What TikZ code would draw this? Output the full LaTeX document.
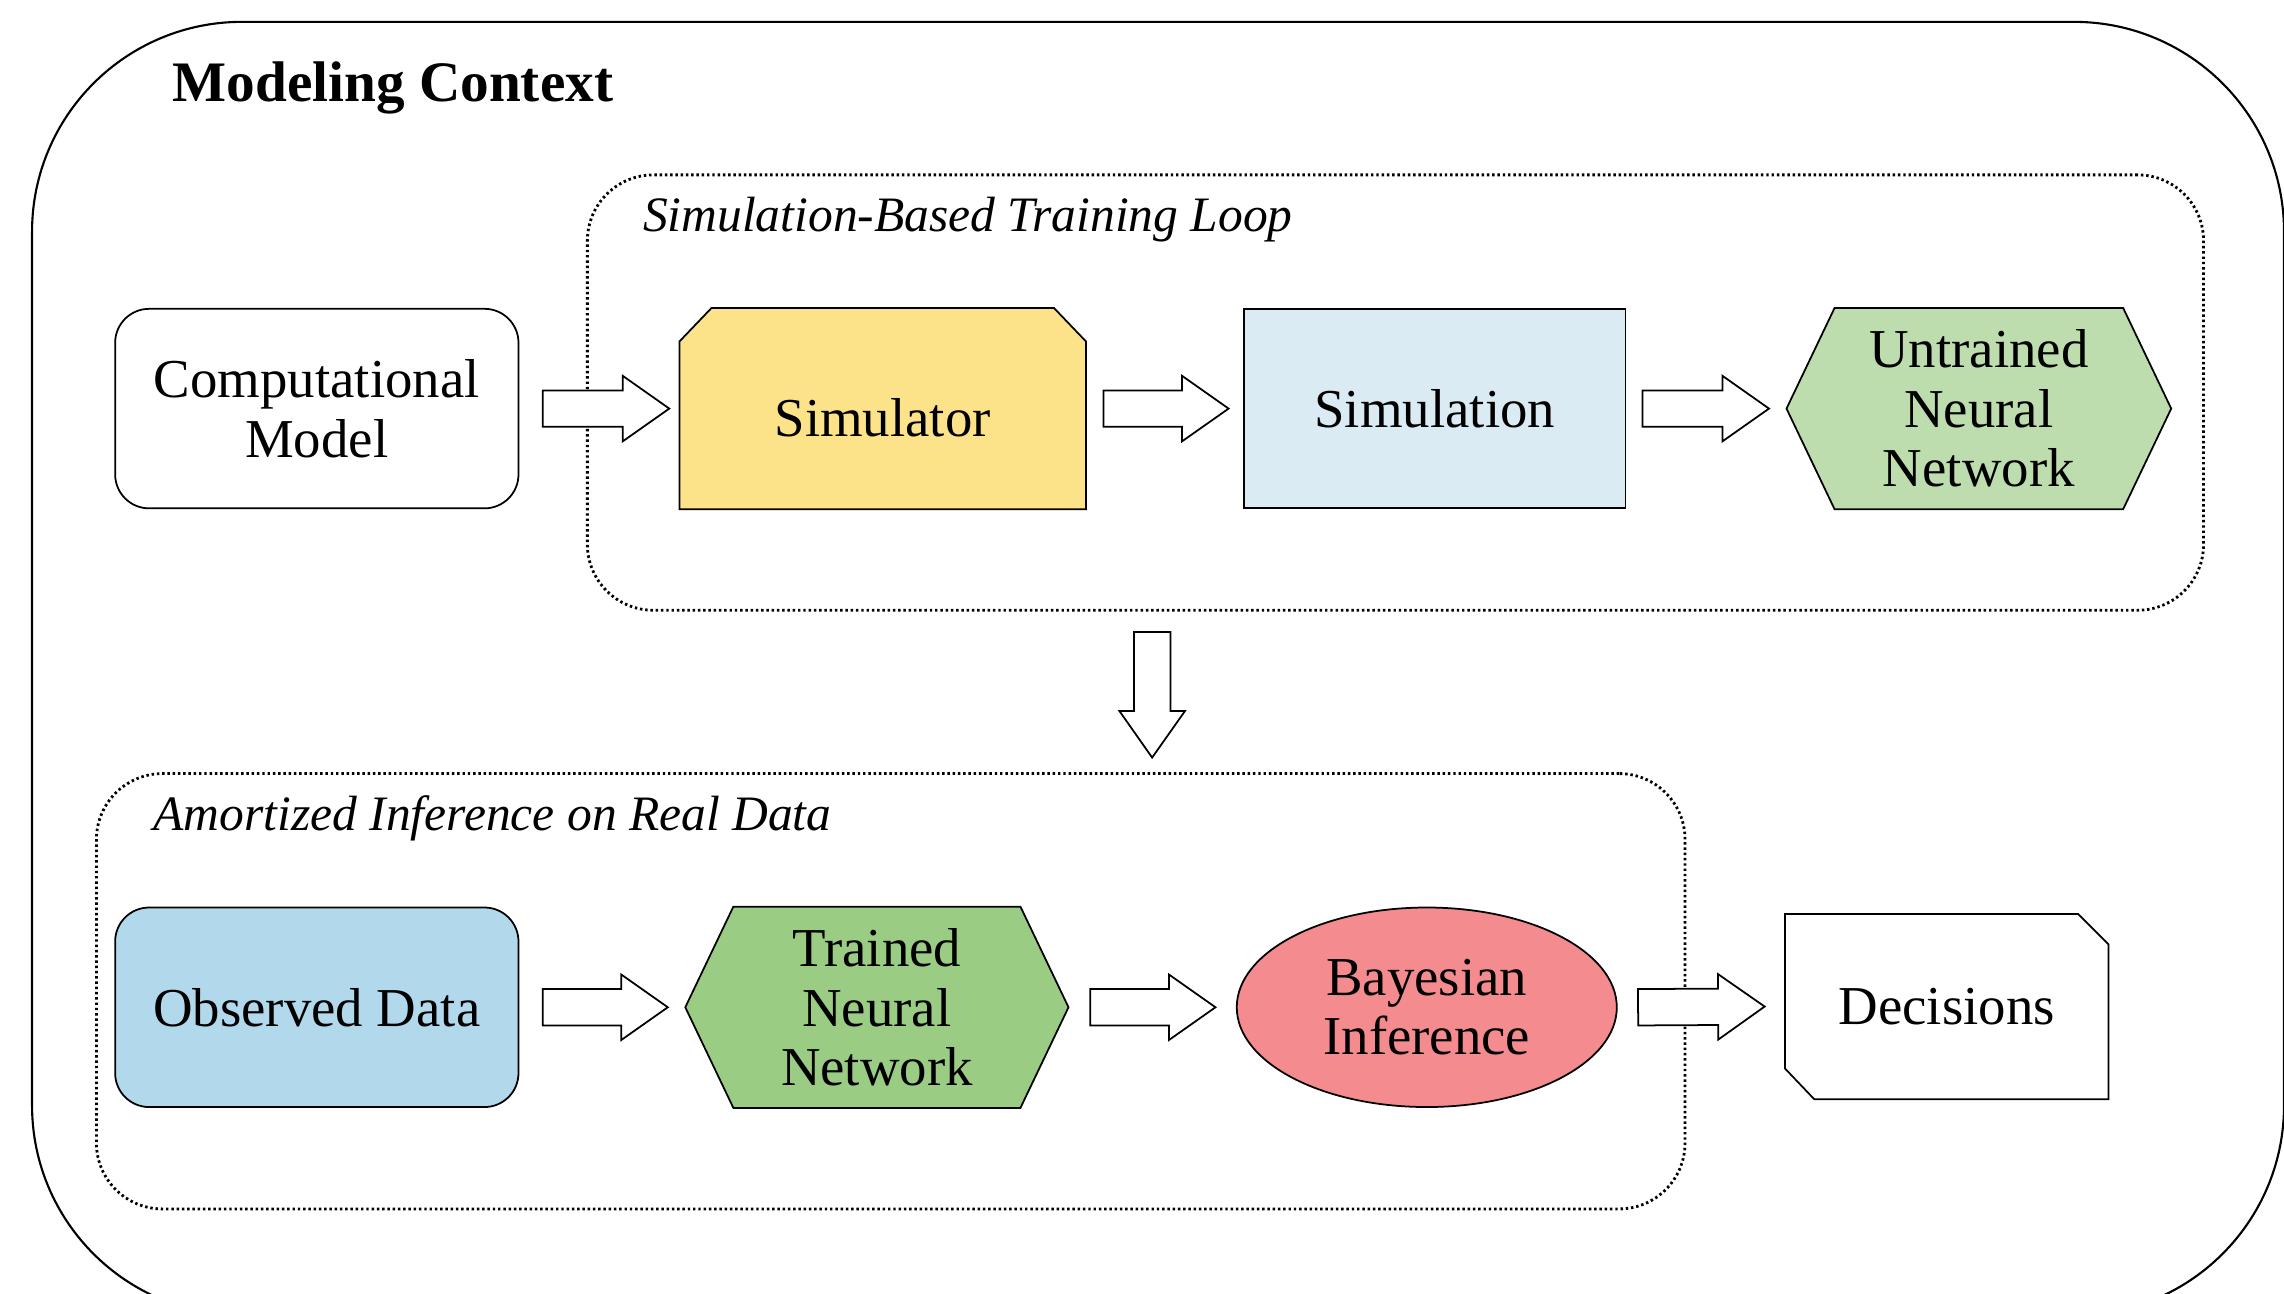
\documentclass[tikz,border=0pt]{standalone}
\usepackage{fontspec}
\setmainfont{Liberation Serif}
\usetikzlibrary{calc,shapes.geometric}
\definecolor{simyellow}{HTML}{FCE38A}
\definecolor{simblue}{HTML}{DAEBF4}
\definecolor{untrgreen}{HTML}{BEDDAE}
\definecolor{obsblue}{HTML}{B2D8EC}
\definecolor{trgreen}{HTML}{9BCC84}
\definecolor{bayesred}{HTML}{F48B8E}
\newcommand{\mynodefont}{\fontsize{15.6pt}{16.9pt}\selectfont}
\pgfdeclarelayer{bg}
\pgfdeclarelayer{shapes}
\pgfsetlayers{bg,shapes,main}
\tikzset{
  box/.style={line width=0.5pt, inner sep=0pt, align=center, font=\mynodefont},
  framed/.style={box, draw=black},
  shapeline/.style={draw=black, line width=0.5pt},
  dotbox/.style={draw=black, line width=0.8pt, dash pattern=on 0.7pt off 0.8pt,
     rounded corners=0.66cm, inner sep=0pt, minimum height=4.355cm},
  grouptitle/.style={anchor=base west, inner sep=0pt, font=\itshape\fontsize{14.1pt}{16.9pt}\selectfont},
  blockarrow/.style={draw=black, fill=white, line width=0.5pt,
    to path={let \p1=($(\tikztotarget)!0.466cm!(\tikztostart)$) in
      ($(\tikztostart)!0.182cm!90:(\tikztotarget)$)
      -- ($(\p1)!0.182cm!90:(\tikztotarget)$)
      -- ($(\p1)!0.328cm!90:(\tikztotarget)$)
      -- (\tikztotarget)
      -- ($(\p1)!0.328cm!-90:(\tikztotarget)$)
      -- ($(\p1)!0.182cm!-90:(\tikztotarget)$)
      -- ($(\tikztostart)!0.182cm!-90:(\tikztotarget)$) -- cycle}}
}
\begin{document}
\begin{tikzpicture}[x=0.014566cm, y=-0.014566cm]
\useasboundingbox (0,0) rectangle (1568,888);
\clip (0,0) rectangle (1568,888);

\begin{pgfonlayer}{bg}
  \draw[line width=0.6pt, rounded corners=2.1cm] (22,15) rectangle (1568,903);
  \node[dotbox, minimum width=16.168cm] (loop) at (958,269.5) {};
  \node[dotbox, minimum width=15.892cm] (amort) at (611.5,680.5) {};
\end{pgfonlayer}

\node[anchor=base west, inner sep=0pt, font=\bfseries\fontsize{16.3pt}{18pt}\selectfont] (ctx) at (118,70) {Modeling Context};
\node[grouptitle] (looptitle) at (441,159) {Simulation-Based Training Loop};
\node[grouptitle] (amorttitle) at (105,570) {Amortized Inference on Real Data};

% top row
\node[framed, fill=white, rounded corners=0.34cm, minimum width=4.035cm, minimum height=1.996cm] (comp) at (217.5,280.5) {Computational\\Model};
\node[box, minimum width=4.049cm, minimum height=1.996cm] (simr) at (606,280.5) {\raisebox{-2.5pt}[\height][\depth]{Simulator}};
\node[framed, fill=simblue, minimum width=3.816cm, minimum height=1.996cm] (siml) at (985,280.5) {Simulation};
\node[box, minimum width=3.831cm, minimum height=1.996cm] (untr) at (1358.5,280.5) {Untrained\\Neural\\Network};

% bottom row
\node[framed, fill=obsblue, rounded corners=0.34cm, minimum width=4.035cm, minimum height=1.996cm] (obs) at (217.5,691.5) {Observed Data};
\node[box, minimum width=3.816cm, minimum height=1.996cm] (trn) at (602,691.5) {Trained\\Neural\\Network};
\node[framed, ellipse, fill=bayesred, minimum width=3.802cm, minimum height=1.996cm] (bay) at (979.5,691.5) {Bayesian\\Inference};
\node[box, minimum width=3.219cm, minimum height=1.835cm] (dec) at (1336.5,691) {Decisions};

\begin{pgfonlayer}{shapes}
  \draw[shapeline, fill=simyellow] (simr.south west) -- ($(simr.north west)+(0,23)$) -- ($(simr.north west)+(22,0)$)
     -- ($(simr.north east)+(-22,0)$) -- ($(simr.north east)+(0,23)$) -- (simr.south east) -- cycle;
  \draw[shapeline, fill=untrgreen] (untr.west) -- ($(untr.north west)+(33,0)$) -- ($(untr.north east)+(-33,0)$)
     -- (untr.east) -- ($(untr.south east)+(-33,0)$) -- ($(untr.south west)+(33,0)$) -- cycle;
  \draw[shapeline, fill=trgreen] (trn.west) -- ($(trn.north west)+(33,0)$) -- ($(trn.north east)+(-33,0)$)
     -- (trn.east) -- ($(trn.south east)+(-33,0)$) -- ($(trn.south west)+(33,0)$) -- cycle;
  \draw[shapeline, fill=white] (dec.north west) -- ($(dec.north east)+(-21,0)$) -- ($(dec.north east)+(0,21)$)
     -- (dec.south east) -- ($(dec.south west)+(20,0)$) -- ($(dec.south west)+(0,-21)$) -- cycle;
\end{pgfonlayer}

% arrows
\draw[blockarrow] ([xshift=0.233cm]comp.east) to ([xshift=-0.102cm]simr.west);
\draw[blockarrow] ([xshift=0.175cm]simr.east) to ([xshift=-0.146cm]siml.west);
\draw[blockarrow] ([xshift=0.160cm]siml.east) to ([xshift=-0.175cm]untr.west);
\draw[blockarrow] ([xshift=0.233cm]obs.east) to ([xshift=-0.175cm]trn.west);
\draw[blockarrow] ([xshift=0.218cm]trn.east) to ([xshift=-0.204cm]bay.west);
\draw[blockarrow] ([xshift=0.204cm]bay.east) to ([xshift=-0.204cm]dec.west);
\draw[blockarrow] ([xshift=-2.433cm,yshift=-0.204cm]loop.south) to ([xshift=2.615cm,yshift=0.146cm]amort.north);
\end{tikzpicture}
\end{document}
